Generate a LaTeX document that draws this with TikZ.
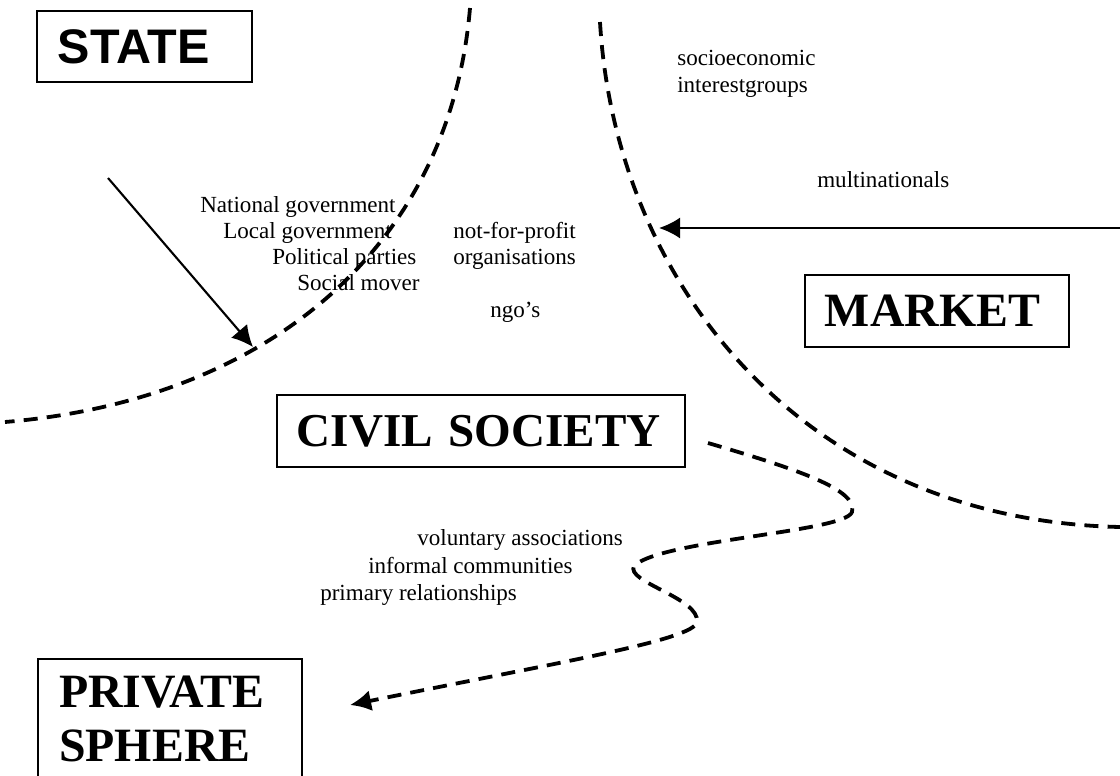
\documentclass[tikz,border=0pt]{standalone}
\usepackage{fontspec}
\setmainfont{Liberation Serif}
\newfontfamily\headsans{Liberation Sans}
\usetikzlibrary{arrows.meta}

\tikzset{
  sector/.style={draw, line width=1.6pt, align=left, inner ysep=0pt,
    font=\bfseries\fontsize{34}{38.4}\selectfont},
  item/.style={anchor=base west, inner sep=0pt, font=\fontsize{16.4}{18.5}\selectfont},
  border/.style={line width=2.7pt, dash pattern=on 10pt off 6.5pt},
  pointer/.style={-{Latex[length=15pt,width=15pt]}, line width=1.5pt},
}

\begin{document}
\begin{tikzpicture}[x=0.025cm, y=-0.025cm]
  \useasboundingbox (0,0) rectangle (1120,776);

  % the four sectors
  \node[sector, font=\headsans\bfseries\fontsize{34.5}{38}\selectfont,
    text width=4.325cm, inner xsep=0.525cm, minimum height=1.775cm] (state) at (144.5,46.5) {STATE};
  \node[sector, text width=5.6cm, inner xsep=0.5cm, minimum height=1.8cm] (market) at (937,311) {MARKET};
  \node[sector, font=\bfseries\fontsize{33.5}{38}\selectfont,
    text width=9.4cm, inner xsep=0.4cm, minimum height=1.8cm] (civil) at (481,431) {\mbox{}\hspace{0.1cm}CIVIL SOCIETY};
  \node[sector, text width=5.55cm, inner xsep=0.525cm, minimum height=3cm,
    anchor=north west] (private) at (37,658) {PRIVATE\\SPHERE};

  % borders between state, civil society and market
  \draw[border] (470,8) .. controls (450,245) and (270,400) .. (5,422);
  \draw[border] (600,22) .. controls (615,280) and (800,520) .. (1120,527);

  % state side
  \node[item] (natgov) at (200,212) {National government};
  \node[item] (locgov) at (223,238) {Local government};
  \begin{scope}
    \clip (260,240) rectangle (420,300);
    \node[item] (parties) at (272,264) {Political parties};
    \node[item] (movements) at (297,290) {Social mover};
  \end{scope}

  % civil society
  \node[item] (nfp) at (453,238) {not-for-profit};
  \node[item] (orgs) at (453,264) {organisations};
  \node[item] (ngo) at (490,317) {ngo’s};

  % market side
  \node[item] (socio) at (677,65) {socioeconomic};
  \node[item] (groups) at (677,92) {interestgroups};
  \node[item] (multi) at (817,187) {multinationals};

  % private sphere
  \node[item] (vol) at (417,545) {voluntary associations};
  \node[item] (inf) at (368,573) {informal communities};
  \node[item] (prim) at (320,600) {primary relationships};

  % arrows
  \coordinate (state-in) at (108,178);
  \coordinate (state-edge) at (253,347);
  \draw[pointer] (state-in) -- (state-edge);

  \coordinate (market-in) at (1120,228);
  \coordinate (market-edge) at (659,228);
  \draw[pointer] (market-in) -- (market-edge);

  \coordinate (civil-out) at (708,443);
  \coordinate (private-in) at (350,705);
  \draw[border, -{Latex[length=15pt,width=15pt]}] (civil-out)
    .. controls (800,470) and (858,490) .. (852,512)
    .. controls (846,532) and (660,540) .. (634,566)
    .. controls (625,582) and (700,598) .. (697,622)
    .. controls (694,640) and (560,662) .. (private-in);
\end{tikzpicture}
\end{document}
